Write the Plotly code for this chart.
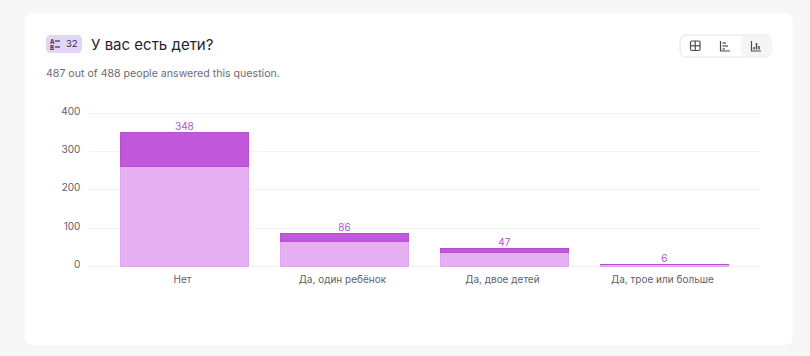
import plotly.graph_objects as go

categories = ["Нет", "Да, один ребёнок", "Да, двое детей", "Да, трое или больше"]
totals = [348, 86, 47, 6]
light_values = [260, 65, 37, 5]
dark_values = [88, 21, 10, 1]
y_ticks = [0, 100, 200, 300, 400]

W, H = 810, 356
FONT = "Inter, 'Noto Sans', sans-serif"


def px(x):
    return x / W


def py(y):
    return 1 - y / H


def rrect(x0, y0, x1, y1, r):
    X0, X1 = px(x0), px(x1)
    Y0, Y1 = py(y0), py(y1)
    rx, ry = r / W, r / H
    return (
        f"M {X0+rx} {Y0} L {X1-rx} {Y0} Q {X1} {Y0} {X1} {Y0-ry} "
        f"L {X1} {Y1+ry} Q {X1} {Y1} {X1-rx} {Y1} L {X0+rx} {Y1} "
        f"Q {X0} {Y1} {X0} {Y1+ry} L {X0} {Y0-ry} Q {X0} {Y0} {X0+rx} {Y0} Z"
    )


def pth(points):
    return "M " + " L ".join(f"{px(a)} {py(b)}" for a, b in points)


def box(d, fill="rgba(0,0,0,0)", line=None, width=1):
    return dict(type="path", xref="paper", yref="paper", path=d, fillcolor=fill,
                line=dict(color=line if line else "rgba(0,0,0,0)", width=width), layer="below")


def seg(points, color="#4a4a55", width=1.2):
    return dict(type="path", xref="paper", yref="paper", path=pth(points),
                line=dict(color=color, width=width), layer="above")


shapes = [
    box(rrect(25, 13, 793, 345, 9), fill="#ffffff"),
    box(rrect(46, 35, 82, 53, 5), fill="#e2d5fa"),
    # segmented control
    box(rrect(680, 35, 771, 57, 7), fill="#ffffff", line="#e4e4e7"),
    box(rrect(741, 35.5, 771, 56.5, 6), fill="#f5f5f6"),
    # table icon
    box(rrect(690.5, 41, 700, 50.5, 1.5), line="#4a4a55", width=1.2),
    seg([(690.5, 45.75), (700, 45.75)]),
    seg([(695.25, 41), (695.25, 50.5)]),
    # horizontal bars icon
    seg([(720.5, 41), (720.5, 51), (730, 51)]),
    seg([(722.5, 43), (726, 43)]),
    seg([(722.5, 46), (728, 46)]),
    seg([(722.5, 49), (725, 49)]),
    # vertical bars icon
    seg([(751.5, 41), (751.5, 51), (761, 51)]),
    seg([(754, 49.5), (754, 47)], width=1.5),
    seg([(756.5, 49.5), (756.5, 43)], width=1.5),
    seg([(759, 49.5), (759, 46)], width=1.5),
    # answer-list glyph in badge
    seg([(55, 41), (60, 41)], color="#33303c", width=1.2),
    seg([(55, 47), (60, 47)], color="#33303c", width=1.2),
]

fig = go.Figure()
fig.add_trace(go.Bar(x=categories, y=light_values, marker=dict(color="#e7b0f2", line=dict(color="#e2a6ee", width=1)),
                     width=0.8, showlegend=False, hoverinfo="skip"))
fig.add_trace(go.Bar(x=categories, y=dark_values, marker=dict(color="#c158dc", line=dict(color="#b550cc", width=1)),
                     width=0.8, showlegend=False, hoverinfo="skip"))
fig.add_trace(go.Scatter(x=categories, y=totals, mode="text", text=[str(v) for v in totals],
                         textposition="top center", cliponaxis=False,
                         textfont=dict(family=FONT, size=10, color="#b455cc"),
                         showlegend=False, hoverinfo="skip"))

annotations = [
    dict(x=px(88.5), y=py(44.5), xref="paper", yref="paper", xanchor="left", yanchor="middle", showarrow=False,
         text="У вас есть дети?", font=dict(family=FONT, size=15, color="#26232e")),
    dict(x=px(44), y=py(73.5), xref="paper", yref="paper", xanchor="left", yanchor="middle", showarrow=False,
         text="487 out of 488 people answered this question.", font=dict(family=FONT, size=10.6, color="#6b6b75")),
    dict(x=px(64), y=py(44), xref="paper", yref="paper", xanchor="left", yanchor="middle", showarrow=False,
         text="32", font=dict(family=FONT, size=9.5, color="#33303c")),
    dict(x=px(52), y=py(41), xref="paper", yref="paper", xanchor="center", yanchor="middle", showarrow=False,
         text="<b>A</b>", font=dict(family=FONT, size=6, color="#33303c")),
    dict(x=px(52), y=py(47), xref="paper", yref="paper", xanchor="center", yanchor="middle", showarrow=False,
         text="<b>B</b>", font=dict(family=FONT, size=6, color="#33303c")),
]

fig.update_layout(
    width=W, height=H, barmode="stack",
    margin=dict(l=0, r=0, t=0, b=0), autosize=False,
    paper_bgcolor="#f7f7f7", plot_bgcolor="rgba(0,0,0,0)",
    shapes=shapes, annotations=annotations,
    xaxis=dict(domain=[px(88.4), px(760.4)], type="category", categoryorder="array", categoryarray=categories,
               range=[-0.6, 3.6], showgrid=False, zeroline=False, showline=False, ticks="", automargin=False,
               tickfont=dict(family=FONT, size=10, color="#5f5f68"), ticklabelstandoff=4, ticklabelshift=-2),
    yaxis=dict(domain=[py(267.65), py(111.85)], range=[-3, 403], tickvals=y_ticks, showgrid=True,
               gridcolor="#f3f3f5", gridwidth=1, zeroline=False, showline=False, ticks="", automargin=False,
               tickfont=dict(family=FONT, size=10, color="#5f5f68"), ticklabelstandoff=7, ticklabelshift=-2),
)
fig.write_html("out.html", config={"displayModeBar": False},
               post_script="document.body.style.margin='0';document.body.style.overflow='hidden';document.body.style.background='#f7f7f7';")
